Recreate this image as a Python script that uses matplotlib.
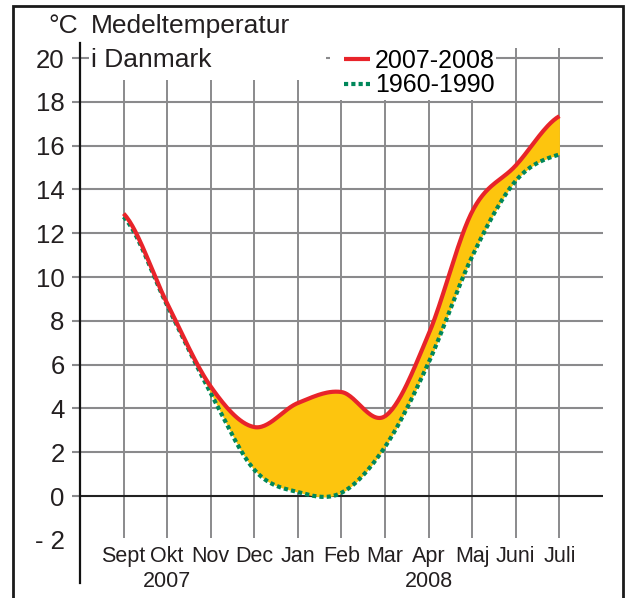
import numpy as np
import matplotlib
matplotlib.use("Agg")
import matplotlib.pyplot as plt
from matplotlib.patches import Rectangle


# =====================================================
# 1. Data
# =====================================================

months = ["Sept", "Okt", "Nov", "Dec", "Jan", "Feb",
          "Mar", "Apr", "Maj", "Juni", "Juli"]

temp_2007_2008 = [12.9, 8.8, 5.0, 3.15, 4.25, 4.75,
                  3.65, 7.4, 13.0, 15.1, 17.35]

temp_1960_1990 = [12.75, 8.7, 4.7, 1.2, 0.18, 0.15,
                  2.25, 6.1, 10.95, 14.4, 15.6]

years = ["2007", "2008"]
year_month = ["Okt", "Apr"]

y_ticks = list(range(-2, 21, 2))
y_ticklabels = ["- 2" if v < 0 else str(v) for v in y_ticks]


# =====================================================
# 2. Smooth drawing of a series (Catmull-Rom)
# =====================================================

def smooth(y, steps=30):

    y = np.asarray(y, dtype=float)
    p = np.concatenate([[y[0]], y, [y[-1]]])

    xs, ys = [], []
    t = np.linspace(0, 1, steps, endpoint=False)

    for i in range(len(y) - 1):
        p0, p1, p2, p3 = p[i], p[i + 1], p[i + 2], p[i + 3]
        seg = 0.5 * (
            2 * p1
            + (-p0 + p2) * t
            + (2 * p0 - 5 * p1 + 4 * p2 - p3) * t**2
            + (-p0 + 3 * p1 - 3 * p2 + p3) * t**3
        )
        xs.append(i + t)
        ys.append(seg)

    xs.append([len(y) - 1])
    ys.append([y[-1]])

    return np.concatenate(xs), np.concatenate(ys)


# =====================================================
# 3. Figure
# =====================================================

plt.rcParams["font.family"] = ["Liberation Sans", "DejaVu Sans"]

W, H = 625, 598

def fx(px):
    return px / W

def fy(py):
    return 1 - py / H


fig = plt.figure(figsize=(W / 100, H / 100), dpi=100)
ax = fig.add_axes([fx(80), fy(583), (603 - 80) / W, (583 - 43) / H])

x = np.arange(len(months))

ax.set_xlim(-1, 11)
ax.set_ylim(-3.97, 20.69)

grid_color = "#8a8a8c"
text_color = "#231f20"

# Vertical grid
ax.vlines(x, -1.92, 20.45, color=grid_color, linewidth=1.4, zorder=1)

# Horizontal grid (0 line in black)
for v in y_ticks:
    if v < 0:
        continue
    ax.hlines(v, -1, 11, color="#222222" if v == 0 else grid_color,
              linewidth=1.5, zorder=1)


# =====================================================
# 4. Series
# =====================================================

xs, red_s = smooth(temp_2007_2008)
_, green_s = smooth(temp_1960_1990)

ax.fill_between(xs, green_s, red_s, color="#fdc50e", linewidth=0, zorder=2)

green_line, = ax.plot(xs, green_s, color="#00875a", linewidth=3,
                      dashes=(1, 0.75), dash_capstyle="butt", zorder=3,
                      label="1960-1990")

red_line, = ax.plot(xs, red_s, color="#e8242a", linewidth=3,
                    solid_capstyle="butt", zorder=4,
                    label="2007-2008")


# =====================================================
# 5. Axes, ticks and labels
# =====================================================

for side in ["top", "right", "bottom"]:
    ax.spines[side].set_visible(False)

ax.spines["left"].set_linewidth(1.6)
ax.spines["left"].set_color("#111111")

ax.set_xticks([])
ax.set_yticks(y_ticks)
ax.set_yticklabels(y_ticklabels, fontsize=18.5, color=text_color)
ax.tick_params(axis="y", direction="out", length=6, width=1.5,
               color=grid_color, pad=5)

ticks = ax.yaxis.get_major_ticks()
ticks[0].tick1line.set_visible(False)
ticks[1].tick1line.set_color("#222222")

for i, m in enumerate(months):
    ax.text(i, -3.01, m, ha="center", va="baseline",
            fontsize=15.5, color=text_color)

for yr, m in zip(years, year_month):
    ax.text(months.index(m), -4.15, yr, ha="center", va="baseline",
            fontsize=15.5, color=text_color, clip_on=False)


# =====================================================
# 6. Title, legend and frame
# =====================================================

# white boxes behind title and legend
fig.patches.append(Rectangle((fx(89), fy(80)), (326 - 89) / W, (80 - 30) / H,
                             transform=fig.transFigure, facecolor="white",
                             edgecolor="none", zorder=1))
fig.patches.append(Rectangle((fx(330), fy(100)), (496 - 330) / W, (100 - 40) / H,
                             transform=fig.transFigure, facecolor="white",
                             edgecolor="none", zorder=1))

fig.text(fx(48), fy(33), "°C", fontsize=19, va="baseline", color=text_color)
fig.text(fx(91), fy(33), "Medeltemperatur", fontsize=19, va="baseline",
         color=text_color)
fig.text(fx(91), fy(67), "i Danmark", fontsize=19, va="baseline",
         color=text_color)

fig.legend(
    [red_line, green_line],
    ["2007-2008", "1960-1990"],
    loc="upper left",
    bbox_to_anchor=(fx(344), fy(49)),
    frameon=False,
    borderpad=0,
    borderaxespad=0,
    handlelength=1.05,
    handletextpad=0.2,
    labelspacing=0.02,
    prop={"size": 18},
)

# outer frame
fig.patches.append(Rectangle((fx(13), fy(640)), (623 - 13) / W, (640 - 6) / H,
                             transform=fig.transFigure, fill=False,
                             edgecolor="#1a1a1a", linewidth=2, zorder=2))

fig.savefig("out.png", dpi=100)
